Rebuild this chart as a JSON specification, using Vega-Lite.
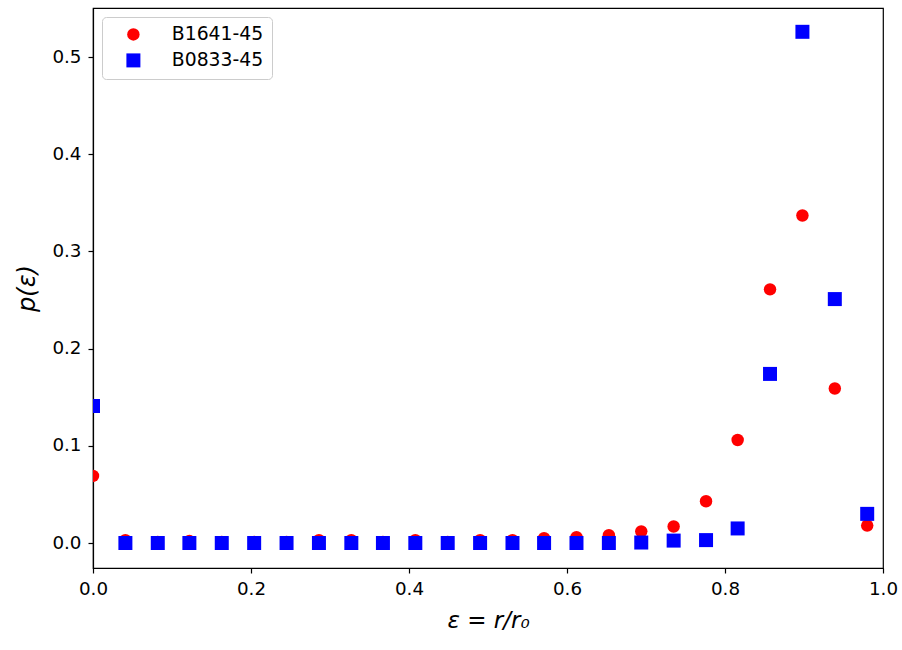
{
  "$schema": "https://vega.github.io/schema/vega-lite/v6.json",
  "width": 790,
  "height": 560,
  "autosize": {"type": "none"},
  "padding": {"left": 93, "top": 8, "right": 19, "bottom": 82},
  "background": "white",
  "config": {
    "font": "DejaVu Sans",
    "view": {"stroke": "black", "strokeWidth": 1.2},
    "axis": {
      "domainColor": "black", "domainWidth": 1.2, "tickColor": "black", "tickWidth": 1.2, "tickSize": 5,
      "labelFont": "DejaVu Sans", "labelFontSize": 18.3, "labelColor": "black", "labelPadding": 7,
      "labelFlush": false, "labelOverlap": false,
      "titleFont": "DejaVu Sans", "titleColor": "black", "titleFontWeight": "normal", "grid": false
    },
    "legend": {
      "orient": "top-left", "offset": 9, "padding": 8,
      "strokeColor": "#cccccc", "fillColor": "rgba(255,255,255,0.8)", "cornerRadius": 4,
      "labelFont": "DejaVu Sans", "labelFontSize": 18.8, "labelColor": "black",
      "symbolOffset": 14, "labelOffset": 29, "rowPadding": 6, "symbolStrokeWidth": 0, "symbolSize": 170
    }
  },
  "data": {"values": [
    {"x": 0.000, "p": 0.069, "series": "B1641-45"},
    {"x": 0.041, "p": 0.003, "series": "B1641-45"},
    {"x": 0.082, "p": 0.001, "series": "B1641-45"},
    {"x": 0.122, "p": 0.002, "series": "B1641-45"},
    {"x": 0.163, "p": 0.001, "series": "B1641-45"},
    {"x": 0.204, "p": 0.001, "series": "B1641-45"},
    {"x": 0.245, "p": 0.001, "series": "B1641-45"},
    {"x": 0.286, "p": 0.003, "series": "B1641-45"},
    {"x": 0.327, "p": 0.003, "series": "B1641-45"},
    {"x": 0.367, "p": 0.001, "series": "B1641-45"},
    {"x": 0.408, "p": 0.003, "series": "B1641-45"},
    {"x": 0.449, "p": 0.001, "series": "B1641-45"},
    {"x": 0.490, "p": 0.003, "series": "B1641-45"},
    {"x": 0.531, "p": 0.003, "series": "B1641-45"},
    {"x": 0.571, "p": 0.005, "series": "B1641-45"},
    {"x": 0.612, "p": 0.006, "series": "B1641-45"},
    {"x": 0.653, "p": 0.008, "series": "B1641-45"},
    {"x": 0.694, "p": 0.012, "series": "B1641-45"},
    {"x": 0.735, "p": 0.017, "series": "B1641-45"},
    {"x": 0.776, "p": 0.043, "series": "B1641-45"},
    {"x": 0.816, "p": 0.106, "series": "B1641-45"},
    {"x": 0.857, "p": 0.261, "series": "B1641-45"},
    {"x": 0.898, "p": 0.337, "series": "B1641-45"},
    {"x": 0.939, "p": 0.159, "series": "B1641-45"},
    {"x": 0.980, "p": 0.018, "series": "B1641-45"},
    {"x": 0.000, "p": 0.141, "series": "B0833-45"},
    {"x": 0.041, "p": 0.000, "series": "B0833-45"},
    {"x": 0.082, "p": 0.000, "series": "B0833-45"},
    {"x": 0.122, "p": 0.000, "series": "B0833-45"},
    {"x": 0.163, "p": 0.000, "series": "B0833-45"},
    {"x": 0.204, "p": 0.000, "series": "B0833-45"},
    {"x": 0.245, "p": 0.000, "series": "B0833-45"},
    {"x": 0.286, "p": 0.000, "series": "B0833-45"},
    {"x": 0.327, "p": 0.000, "series": "B0833-45"},
    {"x": 0.367, "p": 0.000, "series": "B0833-45"},
    {"x": 0.408, "p": 0.000, "series": "B0833-45"},
    {"x": 0.449, "p": 0.000, "series": "B0833-45"},
    {"x": 0.490, "p": 0.000, "series": "B0833-45"},
    {"x": 0.531, "p": 0.000, "series": "B0833-45"},
    {"x": 0.571, "p": 0.000, "series": "B0833-45"},
    {"x": 0.612, "p": 0.000, "series": "B0833-45"},
    {"x": 0.653, "p": 0.000, "series": "B0833-45"},
    {"x": 0.694, "p": 0.0005, "series": "B0833-45"},
    {"x": 0.735, "p": 0.0025, "series": "B0833-45"},
    {"x": 0.776, "p": 0.003, "series": "B0833-45"},
    {"x": 0.816, "p": 0.015, "series": "B0833-45"},
    {"x": 0.857, "p": 0.174, "series": "B0833-45"},
    {"x": 0.898, "p": 0.526, "series": "B0833-45"},
    {"x": 0.939, "p": 0.251, "series": "B0833-45"},
    {"x": 0.980, "p": 0.030, "series": "B0833-45"}
  ]},
  "mark": {"type": "point", "filled": true, "clip": true, "opacity": 1, "strokeWidth": 0},
  "encoding": {
    "x": {"field": "x", "type": "quantitative",
      "scale": {"domain": [0, 1], "nice": false, "zero": false},
      "axis": {"values": [0, 0.2, 0.4, 0.6, 0.8, 1.0], "format": ".1f", "title": "ε = r/r₀", "titleFontSize": 23, "titleFontStyle": "italic", "titlePadding": 12}},
    "y": {"field": "p", "type": "quantitative",
      "scale": {"domain": [-0.0257, 0.5505], "nice": false, "zero": false},
      "axis": {"values": [0, 0.1, 0.2, 0.3, 0.4, 0.5], "format": ".1f", "title": "p(ε)", "titleFontSize": 24, "titleFontStyle": "italic", "titlePadding": 12}},
    "color": {"field": "series", "type": "nominal",
      "scale": {"domain": ["B1641-45", "B0833-45"], "range": ["#ff0000", "#0000ff"]},
      "legend": {"title": null}},
    "shape": {"field": "series", "type": "nominal",
      "scale": {"domain": ["B1641-45", "B0833-45"], "range": ["circle", "square"]},
      "legend": {"title": null}},
    "size": {"field": "series", "type": "nominal",
      "scale": {"domain": ["B1641-45", "B0833-45"], "range": [155, 196]},
      "legend": null}
  }
}
